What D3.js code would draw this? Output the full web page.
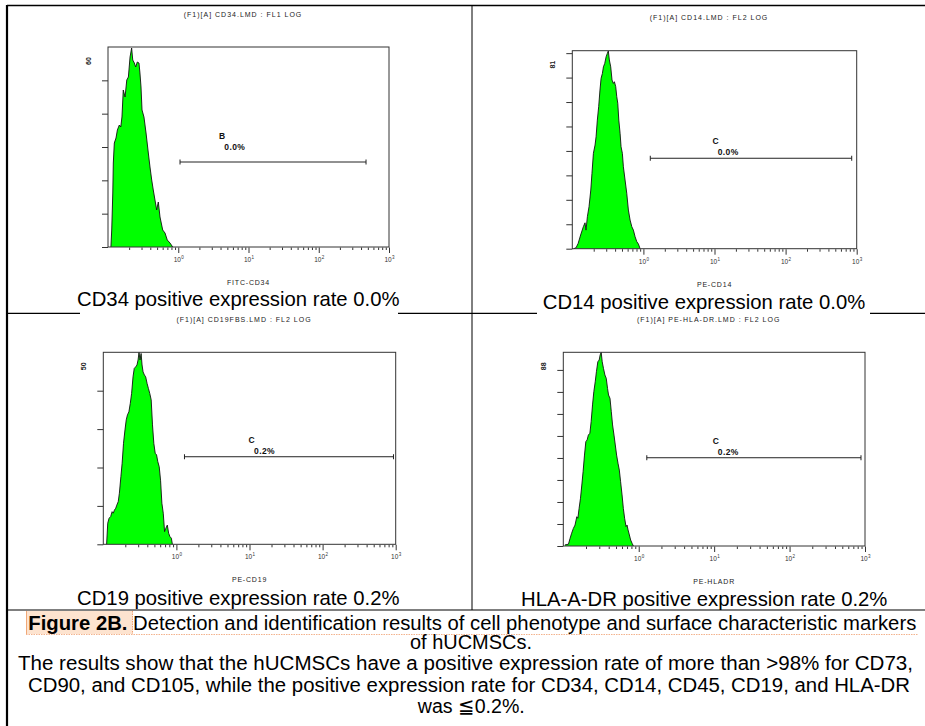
<!DOCTYPE html>
<html><head><meta charset="utf-8">
<script src="https://cdn.jsdelivr.net/npm/d3@7"></script>
<style>html,body{margin:0;padding:0;background:#fff;}svg{display:block;}</style>
</head><body>
<svg id="c" width="925" height="726"></svg>
<script>
// ---------- data ----------
const panelTitles = ["(F1)[A] CD34.LMD : FL1 LOG","(F1)[A] CD14.LMD : FL2 LOG","(F1)[A] CD19FBS.LMD : FL2 LOG","(F1)[A] PE-HLA-DR.LMD : FL2 LOG"];
const axisLabels = ["FITC-CD34","PE-CD14","PE-CD19","PE-HLADR"];
const panelCaptions = ["CD34 positive expression rate 0.0%","CD14 positive expression rate 0.0%","CD19 positive expression rate 0.2%","HLA-A-DR positive expression rate 0.2%"];
const countMax = [60, 81, 50, 88];
const gateNames = ["B","C","C","C"];
const gatePercents = ["0.0%","0.0%","0.2%","0.2%"];
const gateStart = [1.06, 1.25, 1.29, 1.28];
const gateEnd = [471, 851, 933, 885];
const gateLevel = [25.5, 37, 22.8, 40.1];
const majorTicks = [1, 10, 100, 1000];
const majorExp = ["0","1","2","3"];
const xDomain = [0.1, 1000];

const cd34Intensity = [0.110,0.113,0.117,0.119,0.123,0.130,0.136,0.145,0.152,0.158,0.165,0.175,0.185,0.195,0.206,0.217,0.225,0.237,0.248,0.261,0.276,0.285,0.295,0.305,0.325,0.348,0.375,0.396,0.419,0.441,0.493,0.520,0.550,0.601,0.648,0.698,0.763,0.834];
const cd34Counts = [0,5.1,16.2,25.2,31.2,32.7,35.1,36.6,36,39,47.1,45,50.1,51,57,59.7,56.1,55.2,54,55.5,55.2,52.2,48,41.1,39,34.2,28.2,24,20.1,17.1,11.1,13.5,9,5.1,4.2,2.1,1.2,0];

const cd14Intensity = [0.105,0.113,0.121,0.131,0.143,0.151,0.156,0.163,0.172,0.182,0.189,0.198,0.209,0.216,0.225,0.235,0.245,0.254,0.265,0.274,0.286,0.299,0.311,0.321,0.332,0.347,0.362,0.378,0.391,0.408,0.422,0.436,0.451,0.470,0.485,0.506,0.523,0.552,0.583,0.615,0.650,0.687,0.723,0.764,0.807,0.851,0.899];
const cd14Counts = [0,0.4,2.2,5.6,9.0,10.6,7.6,13.1,17.2,24.0,30.8,39.0,42.4,45.8,52.6,58.1,64.9,69.7,71.7,74.4,75.8,78.5,79.9,80.9,77.2,74.4,69.0,67.6,68.3,66.3,62.2,59.5,52.6,47.2,41.7,39.0,33.5,28.1,22.7,15.8,11.7,9.0,7.6,4.9,2.9,1.9,0];

const cd19Intensity = [0.111,0.115,0.120,0.126,0.132,0.137,0.142,0.148,0.153,0.160,0.166,0.174,0.181,0.189,0.198,0.206,0.214,0.224,0.234,0.244,0.255,0.265,0.277,0.289,0.299,0.308,0.318,0.329,0.339,0.350,0.365,0.380,0.397,0.414,0.432,0.452,0.471,0.491,0.513,0.535,0.557,0.582,0.607,0.633,0.661,0.689,0.718,0.751,0.783,0.816,0.853,0.881];
const cd19Counts = [0,5.5,6.8,7.2,8.5,8.1,8.9,9.4,10.2,11.1,13.3,17.6,21.1,26.3,29.8,32.4,33.7,34.5,36.7,39.3,43.6,45.8,46.2,46.7,48.0,50.0,48.0,49.7,46.7,44.9,44.1,43.6,41.9,40.6,39.3,37.6,31.1,26.3,23.7,23.3,21.5,20.2,16.7,10.7,8.1,3.3,4.2,5.0,2.9,2.0,1.6,0];

const hladrIntensity = [0.105,0.117,0.123,0.129,0.136,0.143,0.151,0.156,0.162,0.169,0.176,0.183,0.191,0.199,0.207,0.215,0.225,0.234,0.244,0.254,0.265,0.275,0.287,0.299,0.308,0.318,0.328,0.341,0.356,0.371,0.386,0.398,0.416,0.433,0.450,0.470,0.489,0.509,0.531,0.553,0.575,0.601,0.625,0.650,0.679,0.700,0.722,0.752,0.782,0.817,0.850];
const hladrCounts = [0.5,0.8,3.5,5.8,8.0,9.5,13.3,12.6,17.1,21.7,27.7,33.8,41.3,47.4,48.2,50.4,51.2,56.5,64.1,70.1,74.6,79.2,83.7,84.5,86.8,88.0,83.7,80.7,77.7,76.2,71.6,68.6,67.1,61.0,55.0,50.4,45.9,41.3,37.6,34.5,29.2,23.2,17.1,12.6,8.8,9.5,7.3,5.0,2.7,1.2,0];

const captionLines = [
  "of hUCMSCs.",
  "The results show that the hUCMSCs have a positive expression rate of more than >98% for CD73,",
  "CD90, and CD105, while the positive expression rate for CD34, CD14, CD45, CD19, and HLA-DR",
  "was \u2266" + "0.2%."
];
const figLabel = "Figure 2B.";
const figTitle = " Detection and identification results of cell phenotype and surface characteristic markers";

// ---------- layout ----------
const histX = [cd34Intensity, cd14Intensity, cd19Intensity, hladrIntensity];
const histY = [cd34Counts, cd14Counts, cd19Counts, hladrCounts];
const frames = [
  {l:108,   t:47,   r:389,   b:247,   capX:238.3, capY:306,   box:[80,398],  g:[42,-26,44.3,-15]},
  {l:572.3, t:50.7, r:856.7, b:248.7, capX:704,   capY:308.5, box:[537,870], g:[65.4,-17,67.4,-6]},
  {l:103.3, t:352.3,r:395.7, b:544.3, capX:238.3, capY:605,   box:null,      g:[67,-16.7,69.6,-5.7]},
  {l:563.3, t:352.3,r:865,   b:546,   capX:704.2, capY:606,   box:null,      g:[69,-17,71,-6]}
];
const FONT = "'Liberation Sans', Arial, Helvetica, sans-serif";
const svg = d3.select("#c").style("font-family", FONT);

// outer grid lines
const lines = svg.append("g").attr("stroke", "#000");
lines.append("line").attr("x1",7).attr("x2",925).attr("y1",5.5).attr("y2",5.5).attr("stroke-width",1.3);
lines.append("line").attr("x1",7).attr("x2",925).attr("y1",313.3).attr("y2",313.3).attr("stroke-width",1.2);
lines.append("line").attr("x1",7).attr("x2",925).attr("y1",610).attr("y2",610).attr("stroke-width",1.2);
lines.append("line").attr("x1",472).attr("x2",472).attr("y1",5).attr("y2",610).attr("stroke-width",1);
lines.append("line").attr("x1",7).attr("x2",7).attr("y1",5).attr("y2",726).attr("stroke-width",2.2);

frames.forEach((f, i) => {
  const g = svg.append("g");
  const x = d3.scaleLog().domain(xDomain).range([f.l, f.r]);
  const y = d3.scaleLinear().domain([0, countMax[i]]).range([f.b, f.t]);
  const cx = (f.l + f.r) / 2;

  // title
  g.append("text").attr("x", cx - 5.5).attr("y", f.t - 30.5).attr("text-anchor","middle")
    .attr("font-size", 7).attr("letter-spacing", 1).attr("fill", "#222").text(panelTitles[i]);

  // histogram
  const pts = histX[i].map((v, k) => [v, histY[i][k]]);
  const area = d3.area().x(d => x(d[0])).y0(y(0)).y1(d => y(d[1]));
  g.append("path").attr("d", area(pts)).attr("fill", "#00ff00").attr("stroke", "none");
  const line = d3.line().x(d => x(d[0])).y(d => y(d[1]));
  g.append("path").attr("d", line(pts)).attr("fill", "none").attr("stroke", "#111").attr("stroke-width", 0.9);

  // frame
  g.append("rect").attr("x", f.l).attr("y", f.t).attr("width", f.r - f.l).attr("height", f.b - f.t)
    .attr("fill", "none").attr("stroke", "#333").attr("stroke-width", 1);

  // y ticks
  const yAxis = d3.axisLeft(y).tickValues(d3.range(0, countMax[i] - 0.5, 10)).tickSize(6).tickFormat("");
  const ya = g.append("g").attr("transform", `translate(${f.l},0)`).call(yAxis);
  ya.select(".domain").remove();
  ya.selectAll("line").attr("stroke", "#333");
  g.append("text").attr("transform", `translate(${f.l - 17},${f.t + 14}) rotate(-90)`)
    .attr("text-anchor","middle").attr("font-size", 7).attr("font-weight","bold").attr("fill","#222").text(countMax[i]);

  // x ticks
  const minor = [];
  [0.1, 1, 10, 100].forEach(d => { for (let m = 2; m <= 9; m++) minor.push(d * m); });
  const xMinor = d3.axisBottom(x).tickValues(minor).tickSize(2.5).tickFormat("");
  const xm = g.append("g").attr("transform", `translate(0,${f.b + 0.5})`).call(xMinor);
  xm.select(".domain").remove();
  xm.selectAll("line").attr("stroke", "#333");
  const xMajor = d3.axisBottom(x).tickValues(majorTicks).tickSize(5.5).tickFormat("");
  const xM = g.append("g").attr("transform", `translate(0,${f.b + 0.5})`).call(xMajor);
  xM.select(".domain").remove();
  xM.selectAll("line").attr("stroke", "#333");
  majorTicks.forEach((t, k) => {
    const tx = x(t);
    g.append("text").attr("x", tx - 1).attr("y", f.b + 15).attr("text-anchor","middle")
      .attr("font-size", 6.5).attr("fill","#333").text("10");
    g.append("text").attr("x", tx + 3).attr("y", f.b + 12).attr("font-size", 4.5).attr("fill","#333").text(majorExp[k]);
  });

  // axis label
  g.append("text").attr("x", cx).attr("y", f.b + 38).attr("text-anchor","middle")
    .attr("font-size", 7).attr("letter-spacing", 0.8).attr("fill","#222").text(axisLabels[i]);

  // gate
  const gx1 = x(gateStart[i]), gx2 = x(gateEnd[i]), gy = y(gateLevel[i]);
  const gg = g.append("g").attr("stroke", "#222").attr("stroke-width", 1);
  gg.append("line").attr("x1", gx1).attr("x2", gx2).attr("y1", gy).attr("y2", gy);
  gg.append("line").attr("x1", gx1).attr("x2", gx1).attr("y1", gy - 2.5).attr("y2", gy + 2.5);
  gg.append("line").attr("x1", gx2).attr("x2", gx2).attr("y1", gy - 2.5).attr("y2", gy + 2.5);
  g.append("text").attr("x", gx1 + f.g[0]).attr("y", gy + f.g[1]).attr("dy","0.35em").attr("text-anchor","middle")
    .attr("font-size", 8.5).attr("font-weight","bold").attr("fill","#111").text(gateNames[i]);
  g.append("text").attr("x", gx1 + f.g[2]).attr("y", gy + f.g[3]).attr("dy","0.35em")
    .attr("font-size", 8.5).attr("font-weight","bold").attr("letter-spacing", 0.4).attr("fill","#111").text(gatePercents[i]);

  // caption
  if (f.box) {
    g.append("rect").attr("x", f.box[0]).attr("y", f.capY - 16).attr("width", f.box[1] - f.box[0]).attr("height", 12 + 16)
      .attr("fill", "#fff");
  }
  g.append("text").attr("x", f.capX).attr("y", f.capY).attr("text-anchor","middle")
    .attr("font-size", 20.3).attr("fill","#000").text(panelCaptions[i]);
});

// figure caption
const cap = svg.append("g");
cap.append("rect").attr("x", 26).attr("y", 611).attr("width", 106.5).attr("height", 23).attr("fill", "#fde3cf");
cap.append("line").attr("x1", 26.5).attr("x2", 26.5).attr("y1", 611).attr("y2", 634).attr("stroke", "#f0a878").attr("stroke-width", 1);
cap.append("line").attr("x1", 132.5).attr("x2", 132.5).attr("y1", 611).attr("y2", 634).attr("stroke", "#f0a070").attr("stroke-width", 1).attr("stroke-dasharray","1.5,1");
cap.append("line").attr("x1", 26).attr("x2", 918).attr("y1", 634.5).attr("y2", 634.5).attr("stroke", "#f0a070").attr("stroke-width", 0.8).attr("stroke-dasharray","1.5,1");
const t1 = cap.append("text").attr("x", 28.3).attr("y", 630).attr("font-size", 20).attr("fill","#000")
  .attr("textLength", 888).attr("lengthAdjust","spacingAndGlyphs");
t1.append("tspan").attr("font-weight","bold").text(figLabel);
t1.append("tspan").text(figTitle);
const lineY = [648.5, 670, 691.7, 713.3];
const lineW = [122, 895, 882, 107];
const lineCx = [471, 465.5, 469, 471.3];
captionLines.forEach((s, k) => {
  cap.append("text").attr("x", lineCx[k]).attr("y", lineY[k]).attr("text-anchor","middle")
    .attr("font-size", 20).attr("fill","#000")
    .attr("textLength", lineW[k]).attr("lengthAdjust","spacingAndGlyphs").text(s);
});
</script>
</body></html>
